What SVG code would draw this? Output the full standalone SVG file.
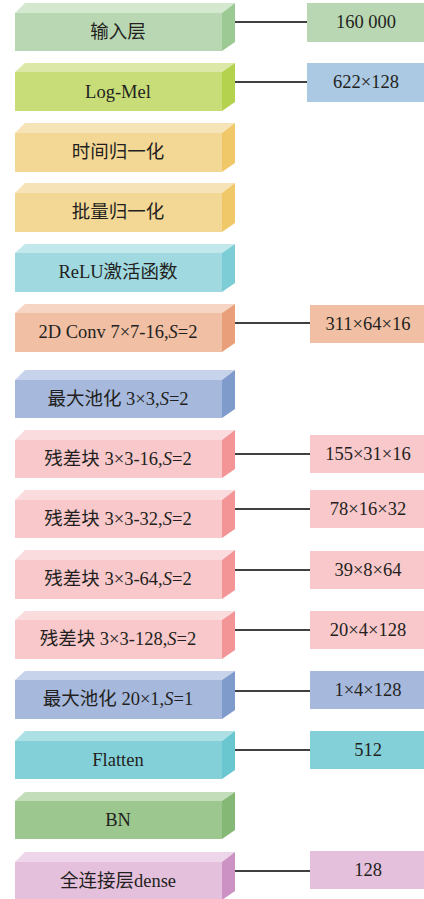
<svg xmlns="http://www.w3.org/2000/svg" width="424" height="899" viewBox="0 0 424 899">
<style>
text{font-family:"Liberation Serif","Noto Sans CJK SC",serif;font-size:18.5px;fill:#231f20;text-anchor:middle;dominant-baseline:central}
.c line{stroke:#000;stroke-width:1.6}
.i{font-style:italic}
</style>
<rect width="424" height="899" fill="#fff"/>
<g class="c" id="connectors">
<line x1="233" y1="22" x2="307" y2="22"/>
<line x1="233" y1="82" x2="307" y2="82"/>
<line x1="233" y1="323" x2="310" y2="323"/>
<line x1="233" y1="454" x2="310" y2="454"/>
<line x1="233" y1="509" x2="310" y2="509"/>
<line x1="233" y1="570" x2="310" y2="570"/>
<line x1="233" y1="630" x2="310" y2="630"/>
<line x1="233" y1="691" x2="310" y2="691"/>
<line x1="233" y1="750" x2="310" y2="750"/>
<line x1="233" y1="871" x2="310" y2="871"/>
</g>
<g id="n0"><polygon points="15,13 25,3 235,3 222,13" fill="#d4e8d0"/><polygon points="222,13 235,3 235,42 222,51" fill="#9dc995"/><rect x="15" y="13" width="207" height="38" fill="#b9d7b3"/><text x="118" y="32">输入层</text></g>
<g id="n1"><polygon points="15,72 25,63 235,63 222,72" fill="#dce8a8"/><polygon points="222,72 235,63 235,102 222,111" fill="#b5d24f"/><rect x="15" y="72" width="207" height="39" fill="#c8dd78"/><text x="118" y="92">Log-Mel</text></g>
<g id="n2"><polygon points="15,133 25,123 235,123 222,133" fill="#f7e3b8"/><polygon points="222,133 235,123 235,163 222,172" fill="#f0c86a"/><rect x="15" y="133" width="207" height="39" fill="#f3d795"/><text x="118" y="152">时间归一化</text></g>
<g id="n3"><polygon points="15,193 25,183 235,183 222,193" fill="#f7e3b8"/><polygon points="222,193 235,183 235,223 222,232" fill="#f0c86a"/><rect x="15" y="193" width="207" height="39" fill="#f3d795"/><text x="118" y="212">批量归一化</text></g>
<g id="n4"><polygon points="15,253 25,244 235,244 222,253" fill="#c2e8ec"/><polygon points="222,253 235,244 235,283 222,292" fill="#7ccdd6"/><rect x="15" y="253" width="207" height="39" fill="#a0d9e0"/><text x="118" y="272">ReLU激活函数</text></g>
<g id="n5"><polygon points="15,313 25,304 235,304 222,313" fill="#f6d5c4"/><polygon points="222,313 235,304 235,343 222,352" fill="#e9a07a"/><rect x="15" y="313" width="207" height="39" fill="#f1c0a4"/><text x="118" y="332">2D Conv 7×7-16,<tspan class="i">S</tspan>=2</text></g>
<g id="n6"><polygon points="15,380 25,370 235,370 222,380" fill="#c6d3ea"/><polygon points="222,380 235,370 235,409 222,418" fill="#7f9bcc"/><rect x="15" y="380" width="207" height="38" fill="#a6b9dd"/><text x="118" y="399">最大池化 3×3,<tspan class="i">S</tspan>=2</text></g>
<g id="n7"><polygon points="15,440 25,430 235,430 222,440" fill="#fbdcde"/><polygon points="222,440 235,430 235,469 222,478" fill="#f39597"/><rect x="15" y="440" width="207" height="38" fill="#f8c8cb"/><text x="118" y="459">残差块 3×3-16,<tspan class="i">S</tspan>=2</text></g>
<g id="n8"><polygon points="15,500 25,490 235,490 222,500" fill="#fbdcde"/><polygon points="222,500 235,490 235,529 222,538" fill="#f39597"/><rect x="15" y="500" width="207" height="38" fill="#f8c8cb"/><text x="118" y="519">残差块 3×3-32,<tspan class="i">S</tspan>=2</text></g>
<g id="n9"><polygon points="15,560 25,550 235,550 222,560" fill="#fbdcde"/><polygon points="222,560 235,550 235,590 222,599" fill="#f39597"/><rect x="15" y="560" width="207" height="39" fill="#f8c8cb"/><text x="118" y="579">残差块 3×3-64,<tspan class="i">S</tspan>=2</text></g>
<g id="n10"><polygon points="15,620 25,611 235,611 222,620" fill="#fbdcde"/><polygon points="222,620 235,611 235,650 222,659" fill="#f39597"/><rect x="15" y="620" width="207" height="39" fill="#f8c8cb"/><text x="118" y="639">残差块 3×3-128,<tspan class="i">S</tspan>=2</text></g>
<g id="n11"><polygon points="15,680 25,671 235,671 222,680" fill="#c6d3ea"/><polygon points="222,680 235,671 235,710 222,719" fill="#7f9bcc"/><rect x="15" y="680" width="207" height="39" fill="#a6b9dd"/><text x="118" y="699">最大池化 20×1,<tspan class="i">S</tspan>=1</text></g>
<g id="n12"><polygon points="15,741 25,731 235,731 222,741" fill="#ade0e5"/><polygon points="222,741 235,731 235,770 222,779" fill="#6ac6cf"/><rect x="15" y="741" width="207" height="38" fill="#83d0d8"/><text x="118" y="760">Flatten</text></g>
<g id="n13"><polygon points="15,801 25,792 235,792 222,801" fill="#c3dcb9"/><polygon points="222,801 235,792 235,830 222,839" fill="#84b874"/><rect x="15" y="801" width="207" height="38" fill="#9cc78f"/><text x="118" y="820">BN</text></g>
<g id="n14"><polygon points="15,862 25,852 235,852 222,862" fill="#eed6ea"/><polygon points="222,862 235,852 235,891 222,900" fill="#cc92c4"/><rect x="15" y="862" width="207" height="38" fill="#e4c0dc"/><text x="118" y="881">全连接层dense</text></g>
<g id="o0"><rect x="307" y="3" width="117" height="39" fill="#b9d7b3"/><text x="366" y="22">160 000</text></g>
<g id="o1"><rect x="307" y="63" width="117" height="39" fill="#abc9e2"/><text x="366" y="82">622×128</text></g>
<g id="o5"><rect x="310" y="305" width="114" height="38" fill="#f1c0a4"/><text x="368" y="324">311×64×16</text></g>
<g id="o7"><rect x="310" y="435" width="114" height="38" fill="#f8c8cb"/><text x="368" y="454">155×31×16</text></g>
<g id="o8"><rect x="310" y="490" width="114" height="38" fill="#f8c8cb"/><text x="368" y="509">78×16×32</text></g>
<g id="o9"><rect x="310" y="551" width="114" height="38" fill="#f8c8cb"/><text x="368" y="570">39×8×64</text></g>
<g id="o10"><rect x="310" y="611" width="114" height="38" fill="#f8c8cb"/><text x="368" y="630">20×4×128</text></g>
<g id="o11"><rect x="310" y="671" width="114" height="38" fill="#a6b9dd"/><text x="368" y="690">1×4×128</text></g>
<g id="o12"><rect x="310" y="731" width="114" height="38" fill="#83d0d8"/><text x="368" y="750">512</text></g>
<g id="o14"><rect x="310" y="851" width="114" height="38" fill="#e4c0dc"/><text x="368" y="870">128</text></g>
</svg>
